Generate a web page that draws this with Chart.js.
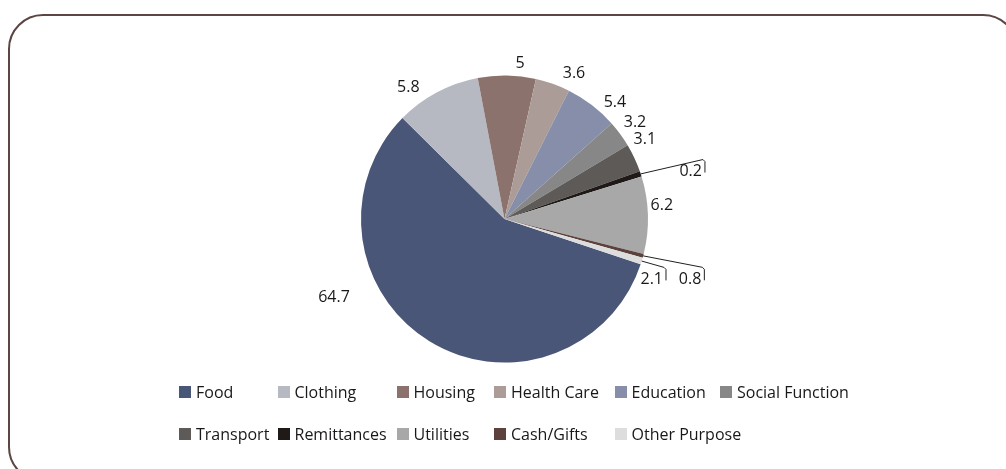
<!DOCTYPE html>
<html>
<head>
<meta charset="utf-8">
<script src="https://cdn.jsdelivr.net/npm/chart.js@4.4.0/dist/chart.umd.min.js"></script>
<style>
html,body{margin:0;padding:0;background:#fff;overflow:hidden;width:1006px;height:469px;}
#wrap{position:relative;width:1006px;height:469px;overflow:hidden;}
#frame{position:absolute;left:8px;top:14px;width:1006px;height:464px;border:2px solid #5b4644;border-radius:35px;}
#chart{position:absolute;left:0;top:0;}
#legend{position:absolute;left:179px;top:381px;display:grid;grid-template-columns:98.5px 119px 97.5px 120.5px 105.5px auto;row-gap:20px;}
#legend .item{display:flex;align-items:center;height:22px;font:16px "Open Sans";color:#1a1718;white-space:nowrap;}
#legend .box{width:12px;height:12px;margin-right:5px;flex:none;}
</style>
</head>
<body>
<div id="wrap">
  <div id="frame"></div>
  <canvas id="chart" width="1006" height="469"></canvas>
  <div id="legend"></div>
</div>
<script>
// Categories (legend order = slice order, clockwise)
const categories = ["Food","Clothing","Housing","Health Care","Education","Social Function","Transport","Remittances","Utilities","Cash/Gifts","Other Purpose"];
// Slice shares as drawn in the picture (percent of the circle)
const sliceShares = [57.3, 9.6, 6.5, 3.9, 6.0, 3.0, 3.2, 0.6, 8.7, 0.45, 0.75];
// Value labels printed next to the slices
const valueLabels = ["64.7","5.8","5","3.6","5.4","3.2","3.1","0.2","6.2","0.8","2.1"];
// Slice colours
const sliceColors = ["#4a5677","#b6b9c1","#8b726d","#ab9c98","#868ea9","#878787","#5e5a58","#1f1a17","#a8a8a8","#5c413c","#dddddd"];
// Label placement: angle (deg clockwise from top) and distance in radii from the pie centre
const labelAngle = [245.4, -36.1, 5.7, 25.6, 43.5, 53.6, 60.4, 75.7, 85.2, 108, 112.3];
const labelDist  = [1.307, 1.137, 1.086, 1.121, 1.118, 1.130, 1.125, 1.339, 1.100, 1.360, 1.109];
const hasLeader  = [false,false,false,false,false,false,false,true,false,true,true];

const sliceLabels = {
  id: 'sliceLabels',
  afterDatasetsDraw(chart) {
    const ctx = chart.ctx;
    const meta = chart.getDatasetMeta(0);
    ctx.save();
    ctx.font = '16px "Open Sans"';
    ctx.fillStyle = '#1a1718';
    ctx.strokeStyle = '#231f20';
    ctx.lineWidth = 1;
    ctx.textAlign = 'center';
    ctx.textBaseline = 'middle';
    meta.data.forEach((arc, i) => {
      const p = arc.getProps(['x','y','outerRadius','startAngle','endAngle'], true);
      const a = labelAngle[i] * Math.PI / 180;
      const d = labelDist[i] * p.outerRadius;
      const cx = p.x + d * Math.sin(a);
      const cy = p.y - d * Math.cos(a);
      const text = valueLabels[i];
      if (hasLeader[i]) {
        const mid = (p.startAngle + p.endAngle) / 2;
        const sx = p.x + p.outerRadius * Math.cos(mid);
        const sy = p.y + p.outerRadius * Math.sin(mid);
        const w = ctx.measureText(text).width;
        ctx.beginPath();
        ctx.moveTo(sx, sy);
        ctx.lineTo(cx + w / 2 + 1, cy - 12);
        ctx.lineTo(cx + w / 2 + 3, cy - 10);
        ctx.lineTo(cx + w / 2 + 3, cy + 1);
        ctx.stroke();
      }
      ctx.fillText(text, cx, cy);
    });
    ctx.restore();
  }
};

const htmlLegend = {
  id: 'htmlLegend',
  afterUpdate(chart) {
    const el = document.getElementById('legend');
    el.innerHTML = '';
    const items = chart.options.plugins.legend.labels.generateLabels(chart);
    items.forEach(it => {
      const d = document.createElement('div');
      d.className = 'item';
      const b = document.createElement('span');
      b.className = 'box';
      b.style.background = it.fillStyle;
      const t = document.createElement('span');
      t.textContent = it.text;
      d.appendChild(b); d.appendChild(t);
      el.appendChild(d);
    });
  }
};

new Chart(document.getElementById('chart'), {
  type: 'pie',
  data: {
    labels: categories,
    datasets: [{
      data: sliceShares,
      backgroundColor: sliceColors,
      borderWidth: 0
    }]
  },
  options: {
    responsive: false,
    animation: false,
    rotation: 108.4,
    layout: { padding: { top: 75.5, bottom: 106.5, left: 3, right: 0 } },
    plugins: {
      legend: { display: false },
      tooltip: { enabled: false }
    }
  },
  plugins: [sliceLabels, htmlLegend]
});
</script>
</body>
</html>
